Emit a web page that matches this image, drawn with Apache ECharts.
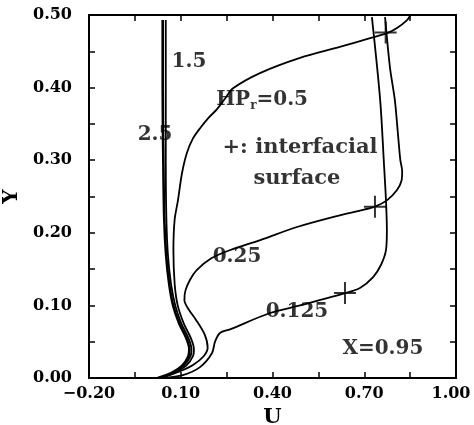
<!DOCTYPE html>
<html>
<head>
<meta charset="utf-8">
<script src="https://cdn.jsdelivr.net/npm/echarts@6/dist/echarts.min.js"></script>
<style>
html, body { margin: 0; padding: 0; background: #fff; }
#chart { width: 474px; height: 425px; }
</style>
</head>
<body>
<div id="chart"></div>
<script>
// velocity profiles U(Y) at X=0.95, one per HPr
const y25 = [0, 0.007, 0.017, 0.03, 0.04, 0.055, 0.075, 0.1, 0.13, 0.17, 0.22, 0.3, 0.4, 0.493];
const u25 = [0.025, 0.07, 0.105, 0.125, 0.128, 0.118, 0.095, 0.075, 0.062, 0.052, 0.046, 0.043, 0.041, 0.041];
const y15 = [0, 0.007, 0.017, 0.03, 0.04, 0.055, 0.075, 0.1, 0.13, 0.17, 0.22, 0.3, 0.4, 0.493];
const u15 = [0.028, 0.075, 0.11, 0.132, 0.135, 0.125, 0.102, 0.082, 0.068, 0.058, 0.053, 0.051, 0.051, 0.051];
const y05 = [0, 0.007, 0.017, 0.03, 0.04, 0.055, 0.075, 0.1, 0.13, 0.176, 0.218, 0.245, 0.282, 0.31, 0.33, 0.345, 0.358, 0.37, 0.385, 0.399, 0.42, 0.441, 0.456, 0.468, 0.475, 0.482, 0.493, 0.499];
const u05 = [0.03, 0.08, 0.118, 0.14, 0.143, 0.133, 0.11, 0.09, 0.08, 0.076, 0.08, 0.091, 0.104, 0.12, 0.14, 0.165, 0.19, 0.218, 0.245, 0.271, 0.359, 0.49, 0.62, 0.719, 0.775, 0.807, 0.84, 0.85];
const y025 = [0, 0.008, 0.018, 0.03, 0.042, 0.06, 0.08, 0.095, 0.107, 0.12, 0.135, 0.149, 0.165, 0.176, 0.19, 0.208, 0.222, 0.232, 0.236, 0.245, 0.259, 0.272, 0.285, 0.3, 0.337, 0.383, 0.428, 0.497];
const u025 = [0.035, 0.09, 0.14, 0.175, 0.188, 0.178, 0.15, 0.125, 0.112, 0.115, 0.13, 0.153, 0.2, 0.26, 0.36, 0.48, 0.6, 0.7, 0.735, 0.775, 0.807, 0.822, 0.824, 0.818, 0.81, 0.8, 0.784, 0.768];
const y0125 = [0, 0.004, 0.015, 0.034, 0.05, 0.062, 0.067, 0.0895, 0.1, 0.117, 0.124, 0.139, 0.156, 0.176, 0.204, 0.245, 0.291, 0.383, 0.497];
const u0125 = [0.04, 0.107, 0.163, 0.202, 0.212, 0.228, 0.261, 0.392, 0.49, 0.637, 0.686, 0.729, 0.755, 0.771, 0.774, 0.771, 0.765, 0.752, 0.725];

// interfacial surface points (+)
const plusU = [0.77, 0.735, 0.637];
const plusY = [0.476, 0.236, 0.117];

// text annotations
const labelTexts = ['1.5', '2.5', 'HPr=0.5', '+: interfacial', 'surface', '0.25', '0.125', 'X=0.95'];
const labelU = [0.127, 0.016, 0.366, 0.49, 0.48, 0.284, 0.48, 0.761];
const labelY = [0.435, 0.335, 0.383, 0.317, 0.275, 0.167, 0.091, 0.04];

// ticks
const uTicks = [-0.2, -0.05, 0.1, 0.25, 0.4, 0.55, 0.7, 0.85, 1.0];
const uLabels = [-0.2, 0.1, 0.4, 0.7, 1.0];
const yTicks = [0, 0.05, 0.1, 0.15, 0.2, 0.25, 0.3, 0.35, 0.4, 0.45, 0.5];
const yLabels = [0, 0.1, 0.2, 0.3, 0.4, 0.5];

const FONT = 'DejaVu Serif';
const fmt = v => v.toFixed(2).replace('-', '\u2212');
const pts = (u, y) => u.map((v, i) => [v, y[i]]);

const ec = echarts.init(document.getElementById('chart'));

const axisLine = { show: true, onZero: false, lineStyle: { color: '#000', width: 2 } };
const tick = vals => ({ show: true, inside: true, length: 6, customValues: vals, lineStyle: { color: '#000', width: 1.5 } });

const curve = (name, u, y, w) => ({
    name: name,
    type: 'line',
    data: pts(u, y),
    showSymbol: false,
    smooth: 0.3,
    lineStyle: { color: '#000', width: w },
    z: 2
});

ec.setOption({
    animation: false,
    backgroundColor: '#fff',
    grid: { left: 89, right: 18, top: 15, bottom: 47, containLabel: false, outerBoundsMode: 'none' },
    xAxis: [
        {
            type: 'value', min: -0.2, max: 1.0, position: 'bottom',
            axisLine: axisLine, axisTick: tick(uTicks), splitLine: { show: false },
            axisLabel: {
                customValues: uLabels, color: '#000', fontFamily: FONT, fontWeight: 'bold', fontSize: 16, margin: 8,
                // last label sits a little left of its tick, as in the original
                formatter: v => v >= 1 ? '{r|' + fmt(v) + '}' : fmt(v),
                rich: { r: { fontFamily: FONT, fontWeight: 'bold', fontSize: 16, color: '#000', padding: [0, 10, 0, 0] } }
            },
            name: 'U', nameLocation: 'middle', nameGap: 20,
            nameTextStyle: { color: '#000', fontFamily: FONT, fontWeight: 'bold', fontSize: 21 }
        },
        {
            type: 'value', min: -0.2, max: 1.0, position: 'top',
            axisLine: axisLine, axisTick: tick(uTicks), splitLine: { show: false },
            axisLabel: { show: false }
        }
    ],
    yAxis: [
        {
            type: 'value', min: 0, max: 0.5, position: 'left',
            axisLine: axisLine, axisTick: tick(yTicks), splitLine: { show: false },
            axisLabel: { customValues: yLabels, formatter: fmt, color: '#000', fontFamily: FONT, fontWeight: 'bold', fontSize: 16, margin: 17 },
            name: 'Y', nameLocation: 'middle', nameGap: 66,
            nameTextStyle: { color: '#000', fontFamily: FONT, fontWeight: 'bold', fontSize: 20 }
        },
        {
            type: 'value', min: 0, max: 0.5, position: 'right',
            axisLine: axisLine, axisTick: tick(yTicks), splitLine: { show: false },
            axisLabel: { show: false }
        }
    ],
    series: [
        curve('2.5', u25, y25, 2.6),
        curve('1.5', u15, y15, 1.8),
        curve('0.5', u05, y05, 1.8),
        curve('0.25', u025, y025, 1.8),
        curve('0.125', u0125, y0125, 1.8),
        {
            name: 'interfacial surface',
            type: 'scatter',
            data: pts(plusU, plusY),
            symbol: 'path://M-1,-11H1V-1H11V1H1V11H-1V1H-11V-1H-1Z',
            symbolSize: 22,
            itemStyle: { color: '#000' },
            z: 3
        },
        {
            name: 'labels',
            type: 'scatter',
            symbolSize: 0,
            z: 4,
            data: labelTexts.map((t, i) => ({ value: [labelU[i], labelY[i]], name: t })),
            label: {
                show: true,
                position: 'inside',
                color: '#000',
                fontFamily: FONT,
                fontSize: 20,
                fontWeight: 'bold',
                formatter: p => {
                    if (p.name === 'HPr=0.5') return '{a|HP}{s|r}{a|=0.5}';
                    if (p.name === '+: interfacial' || p.name === 'surface') return '{b|' + p.name + '}';
                    return p.name;
                },
                rich: {
                    a: { fontFamily: FONT, fontSize: 20, fontWeight: 'bold', color: '#000' },
                    b: { fontFamily: FONT, fontSize: 21, fontWeight: 'bold', color: '#000' },
                    s: { fontFamily: FONT, fontSize: 12, fontWeight: 'bold', color: '#000', padding: [12, 0, 0, 0] }
                }
            }
        }
    ]
});
</script>
</body>
</html>
